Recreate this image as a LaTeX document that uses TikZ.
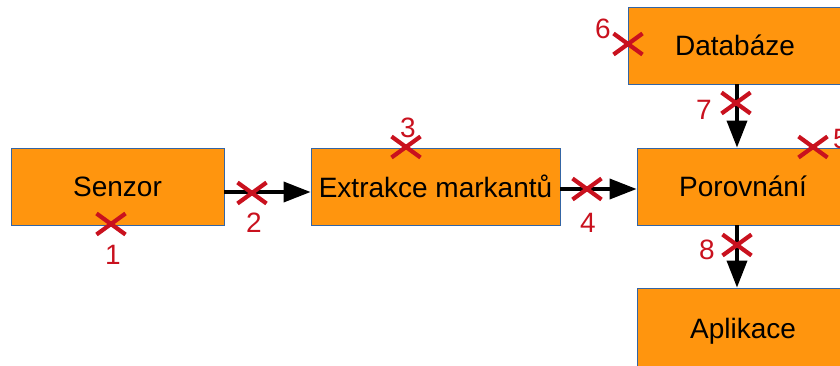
\documentclass[tikz,border=0pt]{standalone}
\usepackage{fontspec}
\setmainfont{Liberation Sans}
\usetikzlibrary{arrows.meta}
\definecolor{boxfill}{HTML}{FF950E}
\definecolor{boxline}{HTML}{3465A4}
\definecolor{crossred}{HTML}{C9111E}
\tikzset{
  block/.style={draw=boxline, line width=0.8pt, fill=boxfill, minimum height=77pt, inner sep=0pt, font=\fontsize{28}{32}\selectfont, text=black},
  arr/.style={draw=black, line width=3.6pt, -{Triangle[length=27pt,width=20pt]}},
  num/.style={text=crossred, font=\fontsize{28}{32}\selectfont, inner sep=0pt},
  xmark/.pic={\draw[crossred, line width=4.2pt] (-14.5,-10.5) -- (14.5,10.5) (-14.5,10.5) -- (14.5,-10.5);}
}
\begin{document}
\begin{tikzpicture}[x=1pt,y=-1pt]
\useasboundingbox (0,0) rectangle (840,365);
\clip (0,0) rectangle (840,365);
\node[block, minimum width=213pt] (sen) at (117.5,186.5) {Senzor};
\node[block, minimum width=249pt] (ext) at (435.5,186.5) {Extrakce markantů};
\node[block, minimum width=212pt] (por) at (743,186.5) {Porovnání};
\node[block, minimum width=214pt] (db) at (735,45.5) {Databáze};
\node[block, minimum width=212pt, minimum height=86pt] (apl) at (743,331) {Aplikace};
\coordinate (v) at (737,0);
\draw[arr] ([yshift=-5.5pt]sen.east) -- ([yshift=-5.5pt]ext.west);
\draw[arr] ([yshift=-2.5pt]ext.east) -- ([yshift=-2.5pt]por.west);
\draw[arr] (db.south -| v) -- (por.north -| v);
\draw[arr] (por.south -| v) -- (apl.north -| v);
\pic at (111,224) {xmark};
\pic at (252,193) {xmark};
\pic at (406,147) {xmark};
\pic at (587,189) {xmark};
\pic at (813,147) {xmark};
\pic at (628,44) {xmark};
\pic at (736,103) {xmark};
\pic at (737,245) {xmark};
\node[num] (n1) at (113,255) {1};
\node[num] (n2) at (254,223) {2};
\node[num] (n3) at (408,128) {3};
\node[num] (n4) at (588,223) {4};
\node[num] (n5) at (841,139) {5};
\node[num] (n6) at (603,29) {6};
\node[num] (n7) at (704,110) {7};
\node[num] (n8) at (707,250) {8};
\end{tikzpicture}
\end{document}
